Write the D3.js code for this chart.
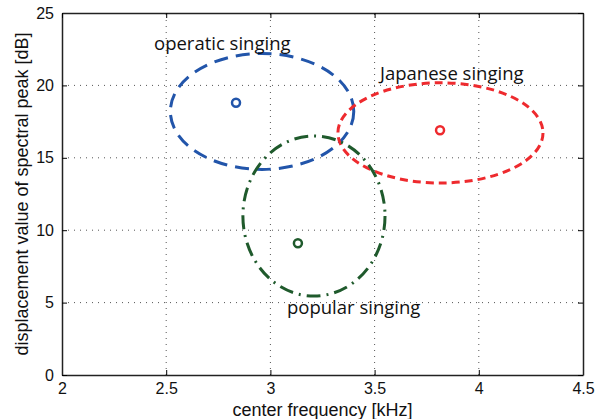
<!DOCTYPE html>
<html lang="en">
<head>
    <script src="https://d3js.org/d3.v7.min.js"></script>
    <title>Singing styles</title>
    <style>
        body { margin: 0; background: #fff; }
        .tick text { font-family: "Liberation Sans", Arial, sans-serif; font-size: 16px; fill: #111; }
    </style>
</head>
<body>
    <div id="container"></div>
    <script>
        // data
        const styles = ["operatic singing", "Japanese singing", "popular singing"];
        const centerFreq = [2.835, 3.814, 3.132];   // kHz, marker
        const peakValue = [18.8, 16.9, 9.1];          // dB, marker
        const ellCx = [2.96, 3.816, 3.209];
        const ellCy = [18.2, 16.72, 10.98];
        const ellRx = [0.44, 0.492, 0.341];
        const ellRy = [4.0, 3.46, 5.53];
        const xTicks = [2, 2.5, 3, 3.5, 4, 4.5];
        const yTicks = [0, 5, 10, 15, 20, 25];

        const colors = ["#2255aa", "#ee2a2e", "#1f5a2c"];
        const dashes = ["14,8", "8,5", "14,6,2,6"];
        const labelPos = [[154, 50], [380, 80], [287, 314]];

        const w = 605, h = 419;
        const m = {left: 62, right: 22, top: 13, bottom: 44};

        const svg = d3.select("#container")
                      .append("svg")
                      .attr("width", w)
                      .attr("height", h);

        const x = d3.scaleLinear().domain([2, 4.5]).range([m.left, w - m.right]);
        const y = d3.scaleLinear().domain([0, 25]).range([h - m.bottom, m.top]);
        const fmt = d3.format("~g");

        // dotted grid
        svg.append("g").selectAll("line")
           .data(xTicks.slice(1, -1))
           .join("line")
           .attr("x1", d => x(d)).attr("x2", d => x(d))
           .attr("y1", y(0)).attr("y2", y(25))
           .attr("stroke", "#555").attr("stroke-width", 1)
           .attr("stroke-dasharray", "1,5");
        svg.append("g").selectAll("line")
           .data(yTicks.slice(1, -1))
           .join("line")
           .attr("x1", x(2)).attr("x2", x(4.5))
           .attr("y1", d => y(d)).attr("y2", d => y(d))
           .attr("stroke", "#555").attr("stroke-width", 1)
           .attr("stroke-dasharray", "1,5");

        // axes
        const xAxis = d3.axisBottom(x).tickValues(xTicks).tickFormat(fmt).tickSizeInner(-5).tickSizeOuter(0).tickPadding(8);
        const yAxis = d3.axisLeft(y).tickValues(yTicks).tickFormat(fmt).tickSizeInner(-5).tickSizeOuter(0).tickPadding(8);
        svg.append("g")
           .attr("transform", "translate(0," + y(0) + ")")
           .call(xAxis)
           .call(g => g.select(".domain").attr("stroke", "#222").attr("stroke-width", 1.5));
        svg.append("g")
           .attr("transform", "translate(" + x(2) + ",0)")
           .call(yAxis)
           .call(g => g.select(".domain").attr("stroke", "#222").attr("stroke-width", 1.5));
        svg.append("g")
           .attr("transform", "translate(0," + y(25) + ")")
           .call(d3.axisTop(x).tickValues(xTicks).tickSizeInner(-5).tickSizeOuter(0).tickFormat(""))
           .call(g => g.select(".domain").attr("stroke", "#222").attr("stroke-width", 1.5));
        svg.append("g")
           .attr("transform", "translate(" + x(4.5) + ",0)")
           .call(d3.axisRight(y).tickValues(yTicks).tickSizeInner(-5).tickSizeOuter(0).tickFormat(""))
           .call(g => g.select(".domain").attr("stroke", "#222").attr("stroke-width", 1.5));

        // ellipses
        svg.append("g").selectAll("ellipse")
           .data(styles)
           .join("ellipse")
           .attr("cx", (d, i) => x(ellCx[i]))
           .attr("cy", (d, i) => y(ellCy[i]))
           .attr("rx", (d, i) => x(ellCx[i] + ellRx[i]) - x(ellCx[i]))
           .attr("ry", (d, i) => y(ellCy[i] - ellRy[i]) - y(ellCy[i]))
           .attr("fill", "none")
           .attr("stroke", (d, i) => colors[i])
           .attr("stroke-width", 3)
           .attr("stroke-dasharray", (d, i) => dashes[i]);

        // markers
        svg.append("g").selectAll("circle")
           .data(styles)
           .join("circle")
           .attr("cx", (d, i) => x(centerFreq[i]))
           .attr("cy", (d, i) => y(peakValue[i]))
           .attr("r", 4)
           .attr("fill", "none")
           .attr("stroke", (d, i) => colors[i])
           .attr("stroke-width", 2.5);

        // labels
        svg.append("g").selectAll("text")
           .data(styles)
           .join("text")
           .attr("x", (d, i) => labelPos[i][0])
           .attr("y", (d, i) => labelPos[i][1])
           .attr("font-family", "'Open Sans', sans-serif")
           .attr("font-size", 18.5)
           .attr("fill", "#111")
           .text(d => d);

        svg.append("text")
           .attr("x", (x(2) + x(4.5)) / 2)
           .attr("y", 416)
           .attr("text-anchor", "middle")
           .attr("font-family", "'Liberation Sans', Arial, sans-serif")
           .attr("font-size", 18)
           .attr("fill", "#111")
           .text("center frequency [kHz]");
        svg.append("text")
           .attr("transform", "translate(28," + (y(0) + y(25)) / 2 + ") rotate(-90)")
           .attr("text-anchor", "middle")
           .attr("font-family", "'Liberation Sans', Arial, sans-serif")
           .attr("font-size", 18)
           .attr("fill", "#111")
           .text("displacement value of spectral peak [dB]");
    </script>
</body>
</html>
